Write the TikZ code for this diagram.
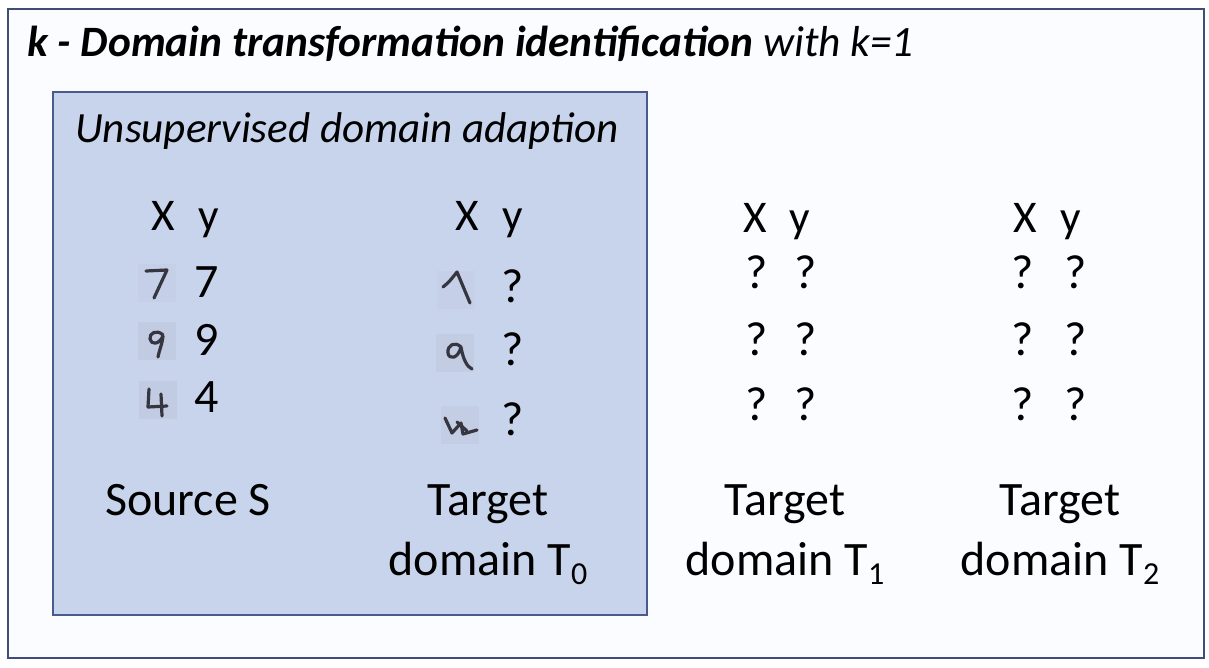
\documentclass[tikz,border=0pt]{standalone}
\usepackage{fontspec}
\setmainfont{Carlito}
\usetikzlibrary{positioning}
\definecolor{FrameBlue}{RGB}{66,76,120}
\definecolor{BoxBlue}{RGB}{200,212,236}
\definecolor{BoxEdge}{RGB}{74,90,138}
\definecolor{PaperWhite}{RGB}{251,252,255}
\definecolor{InkGray}{RGB}{30,32,42}
\definecolor{CellGray}{RGB}{178,186,204}
\newcommand{\lowsub}[1]{\raisebox{-0.42ex}{\fontsize{24}{24}\selectfont #1}}

\begin{document}
\begin{tikzpicture}[x=0.75pt, y=-0.75pt,
    title/.style={anchor=base west, inner sep=0, font=\fontsize{32.5}{38}\selectfont\bfseries\itshape},
    subtitle/.style={anchor=base west, inner sep=0, font=\fontsize{32.3}{38}\selectfont\itshape},
    head/.style={anchor=base, inner sep=0, font=\fontsize{34}{40}\selectfont},
    digit/.style={anchor=base, inner sep=0, font=\fontsize{36}{42}\selectfont},
    label/.style={anchor=base, inner sep=0, align=center, font=\fontsize{36}{45}\selectfont},
    cell/.style={minimum size=28pt, inner sep=0, fill=CellGray, fill opacity=0.3},
    hand/.style={draw=InkGray!90, line width=2.4pt, line cap=round, line join=round}
  ]
  \useasboundingbox (0,0) rectangle (1209,667);
  % frames
  \draw[FrameBlue, line width=1.6pt, fill=PaperWhite] (8,9) rectangle (1204,658);
  \draw[BoxEdge, line width=1.5pt, fill=BoxBlue] (53,92) rectangle (647,615);

  \node[title] (title) at (27,57) {k - Domain transformation identification \textmd{with k=1}};
  \node[subtitle] (uda) at (75,142) {Unsupervised domain adaption};

  % source S
  \node[head] (srcX) at (163,230) {X};
  \node[head] (srcY) at (209,230) {y};
  \node[digit] (src7) at (207,297) {7};
  \node[digit] (src9) at (207,355) {9};
  \node[digit] (src4) at (207,412) {4};
  \node[cell, fill opacity=0.12] (hs7) at (157,283) {};
  \node[cell] (hs9) at (157,341) {};
  \node[cell] (hs4) at (158,400) {};
  \draw[hand, shift={(hs7.center)}] (-11,-12) -- (10,-13) -- (-3,15);
  \draw[hand, shift={(hs9.center)}] (6,-6) .. controls (0,-12) and (-8,-8) .. (-7,-2)
    .. controls (-6,4) and (2,4) .. (6,-5) .. controls (5,4) and (2,10) .. (1,16);
  \draw[hand, shift={(hs4.center)}] (-9,-11) -- (-10,7) -- (9,6);
  \draw[hand, shift={(hs4.center)}] (3,-6) -- (4,16);
  \node[label] (srcLbl) at (188,515) {Source S};

  % target T0
  \node[head] (t0X) at (467,230) {X};
  \node[head] (t0Y) at (513,230) {y};
  \node[digit] (t0q1) at (513,302) {?};
  \node[digit] (t0q2) at (513,365) {?};
  \node[digit] (t0q3) at (513,435) {?};
  \node[cell, fill opacity=0.12] (ht1) at (456,290) {};
  \node[cell, fill opacity=0.25] (ht2) at (455,353) {};
  \node[cell, fill opacity=0.2] (ht3) at (460,425) {};
  \draw[hand, shift={(ht1.center)}] (-13,-3) .. controls (-7,-8) .. (1,-18) -- (14,13);
  \draw[hand, shift={(ht2.center)}] (6,-6) .. controls (0,-12) and (-8,-8) .. (-7,0)
    .. controls (-6,7) and (3,6) .. (6,-6) .. controls (8,6) and (12,14) .. (17,16);
  \draw[hand, shift={(ht3.center)}] (-15,-7) -- (-8,8) -- (1,-2) -- (3,9) -- (17,5);
  \draw[hand, shift={(ht3.center)}] (-3,-3) -- (7,6);
  \node[label] (t0Lbl) at (488,575) {Target\\domain T\lowsub{0}};

  % target T1 and T2
  \node[head] (t1X) at (755,232) {X};
  \node[head] (t1Y) at (800,232) {y};
  \node[head] (t2X) at (1025,232) {X};
  \node[head] (t2Y) at (1071,232) {y};
  \foreach \r/\yy in {1/288, 2/355, 3/420} {
    \node[digit] (t1a\r) at (757,\yy) {?};
    \node[digit] (t1b\r) at (806,\yy) {?};
    \node[digit] (t2a\r) at (1023,\yy) {?};
    \node[digit] (t2b\r) at (1076,\yy) {?};
  }
  \node[label] (t1Lbl) at (785,575) {Target\\domain T\lowsub{1}};
  \node[label] (t2Lbl) at (1060,575) {Target\\domain T\lowsub{2}};
\end{tikzpicture}
\end{document}
